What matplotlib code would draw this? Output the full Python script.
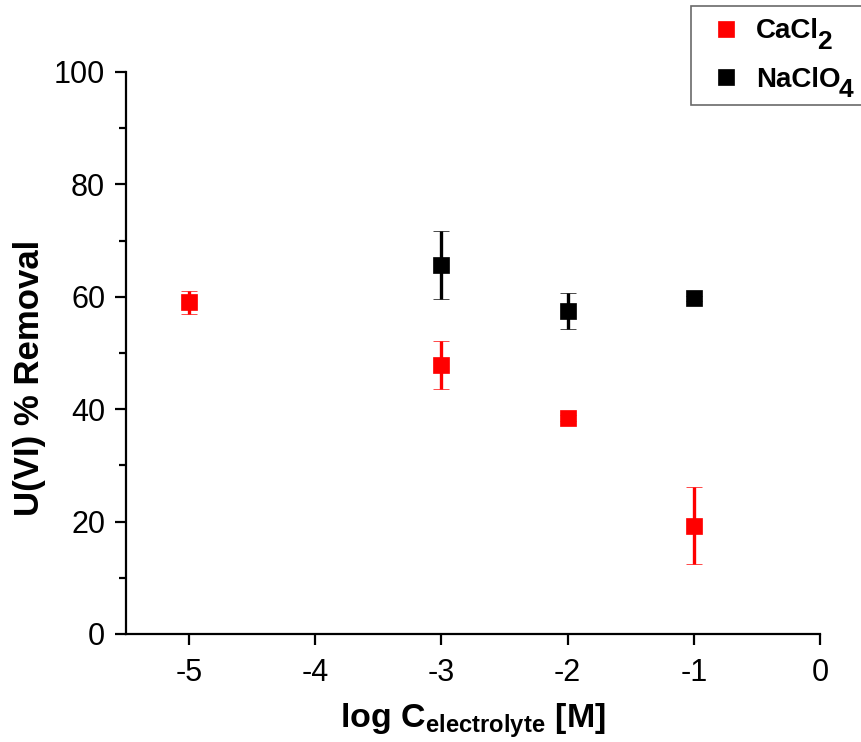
import matplotlib
matplotlib.use("Agg")
import matplotlib.pyplot as plt
from matplotlib.lines import Line2D
from matplotlib.text import Annotation
from matplotlib.ticker import MultipleLocator

plt.rcParams['font.family'] = ['Liberation Sans', 'DejaVu Sans']
plt.rcParams['mathtext.fontset'] = 'custom'
plt.rcParams['mathtext.rm'] = 'Liberation Sans:bold'
plt.rcParams['mathtext.bf'] = 'Liberation Sans:bold'
plt.rcParams['mathtext.it'] = 'Liberation Sans:bold'

# log concentration of electrolyte and uranium removal
x_cacl2 = [-5, -3, -2, -1]
y_cacl2 = [59.0, 47.9, 38.4, 19.3]
err_cacl2 = [2.1, 4.25, 0.5, 6.85]

x_naclo4 = [-3, -2, -1]
y_naclo4 = [65.7, 57.5, 59.7]
err_naclo4 = [6.05, 3.25, 0.5]

x_ticks = [-5, -4, -3, -2, -1, 0]
series_names = ['CaCl', 'NaClO']
series_subs = ['2', '4']

RED = '#ff0000'
BLACK = '#000000'

fig = plt.figure(figsize=(8.62, 7.42), dpi=100)
ax = fig.add_axes([0.1462, 0.1456, 0.9513 - 0.1462, 0.903 - 0.1456])

common = dict(fmt='s', markersize=11.3, markeredgewidth=0.5, elinewidth=2.4,
              capsize=5.9, capthick=2.4)
ax.errorbar(x_cacl2, y_cacl2, yerr=err_cacl2, color=RED, ecolor=RED, **common)
ax.errorbar(x_naclo4, y_naclo4, yerr=err_naclo4, color=BLACK, ecolor=BLACK,
            **common)

ax.set_xticks(x_ticks)
ax.set_xticklabels([str(v) for v in x_ticks])
ax.set_xlim(-5.5, 0)
ax.set_ylim(0, 100)
ax.yaxis.set_major_locator(MultipleLocator(20))
ax.yaxis.set_minor_locator(MultipleLocator(10))

for side in ('top', 'right'):
    ax.spines[side].set_visible(False)
for side in ('left', 'bottom'):
    ax.spines[side].set_linewidth(1.6)

ax.tick_params(axis='both', which='major', direction='out', length=8,
               width=1.6, labelsize=22)
ax.tick_params(axis='y', which='major', pad=7)
ax.tick_params(axis='x', which='major', pad=9)
ax.tick_params(axis='y', which='minor', direction='out', length=5, width=1.6)

ax.set_xlabel(r'log C$_{\mathrm{electrolyte}}$ [M]', fontsize=24.5,
              fontweight='bold', labelpad=10)
ax.set_ylabel('U(VI) % Removal', fontsize=25, fontweight='bold')
ax.yaxis.set_label_coords(-0.1153, 0.455)

# legend: marker handles, names with full-height lowered subscripts
handles = [Line2D([], [], ls='none', marker='s', markersize=11.3,
                  markeredgewidth=0.5, color=c) for c in (RED, BLACK)]
leg = fig.legend(handles, series_names, loc='upper left',
                 bbox_to_anchor=(691 / 862, 1 - 6 / 742 - 0.14, 0.3, 0.14),
                 mode='expand',
                 prop={'size': 20, 'weight': 'bold'}, frameon=True,
                 fancybox=False, edgecolor='#444444', handlelength=1.65,
                 handletextpad=0.25, borderpad=0.45, labelspacing=0.8,
                 borderaxespad=0)
leg.get_frame().set_linewidth(1.2)

for txt, sub in zip(leg.get_texts(), series_subs):
    fig.add_artist(Annotation(sub, xy=(1, 0), xycoords=txt,
                              xytext=(-1.5, -3), textcoords='offset points',
                              fontsize=19, fontweight='bold',
                              va='baseline', ha='left',
                              annotation_clip=False, zorder=6))

fig.savefig('out.png', dpi=100)
